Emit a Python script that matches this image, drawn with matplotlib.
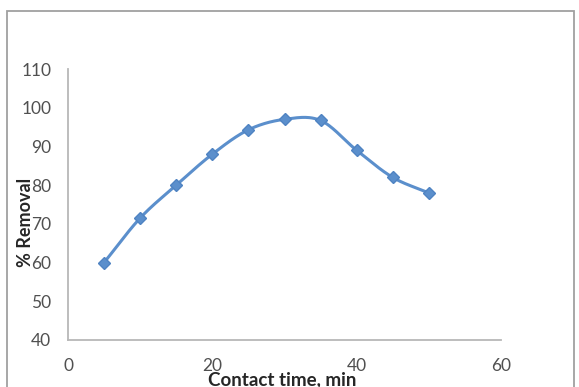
import numpy as np
import matplotlib
matplotlib.use("Agg")
import matplotlib.pyplot as plt
from matplotlib.patches import Rectangle

# Data
contact_time = [5, 10, 15, 20, 25, 30, 35, 40, 45, 50]
removal = [60, 71.5, 80, 88, 94.3, 97, 96.7, 89, 82, 78]
x_ticks = [0, 20, 40, 60]
y_ticks = [40, 50, 60, 70, 80, 90, 100, 110]
x_label = "Contact time, min"
y_label = "% Removal"

plt.rcParams['font.family'] = ['Lato', 'DejaVu Sans']

W, H = 579, 387
fig = plt.figure(figsize=(W / 100, H / 100), dpi=100)

# outer chart frame
fig.patches.append(Rectangle((7.5 / W, -0.05), (574 - 7.5) / W, 1.05 - 11 / H,
                             transform=fig.transFigure, fill=False,
                             edgecolor='#a0a0a0', linewidth=1.3))

ax = fig.add_axes([68 / W, 1 - 340 / H, (501 - 68) / W, (340 - 69) / H])


def smooth(xs, ys, n=30):
    """Catmull-Rom style smoothing through the data points (like Excel smooth line)."""
    p = np.column_stack([xs, ys]).astype(float)
    p_ext = np.vstack([p[0] - (p[1] - p[0]), p, p[-1] + (p[-1] - p[-2])])
    out = []
    for i in range(1, len(p_ext) - 2):
        p0, p1, p2, p3 = p_ext[i - 1], p_ext[i], p_ext[i + 1], p_ext[i + 2]
        t = np.linspace(0, 1, n)[:, None]
        seg = 0.5 * ((2 * p1) + (-p0 + p2) * t + (2 * p0 - 5 * p1 + 4 * p2 - p3) * t ** 2
                     + (-p0 + 3 * p1 - 3 * p2 + p3) * t ** 3)
        out.append(seg if i == 1 else seg[1:])
    out = np.vstack(out)
    return out[:, 0], out[:, 1]


sx, sy = smooth(contact_time, removal)
ax.plot(sx, sy, color='#5B8FCC', linewidth=2.2, solid_capstyle='round', zorder=2)
ax.plot(contact_time, removal, linestyle='none', marker='D', markersize=6,
        color='#5B8FCC', markeredgecolor='#4F83C2', zorder=3)

ax.set_xlim(0, 60)
ax.set_ylim(40, 110)
ax.set_xticks(x_ticks)
ax.set_yticks(y_ticks)
ax.tick_params(axis='both', length=0, labelsize=12.5, labelcolor='#505050')
ax.tick_params(axis='y', pad=12)
ax.tick_params(axis='x', pad=13)

for s in ['top', 'right']:
    ax.spines[s].set_visible(False)
for s in ['left', 'bottom']:
    ax.spines[s].set_color('#b8b8b8')
    ax.spines[s].set_linewidth(1.3)

fig.text(26 / W, 1 - 222 / H, y_label, rotation=90, ha='center', va='center',
         fontsize=13, fontweight='bold', color='#262626')
fig.text(282 / W, 1 - 380 / H, x_label, ha='center', va='center',
         fontsize=13.5, fontweight='bold', color='#262626')

fig.savefig('out.png', dpi=100)
